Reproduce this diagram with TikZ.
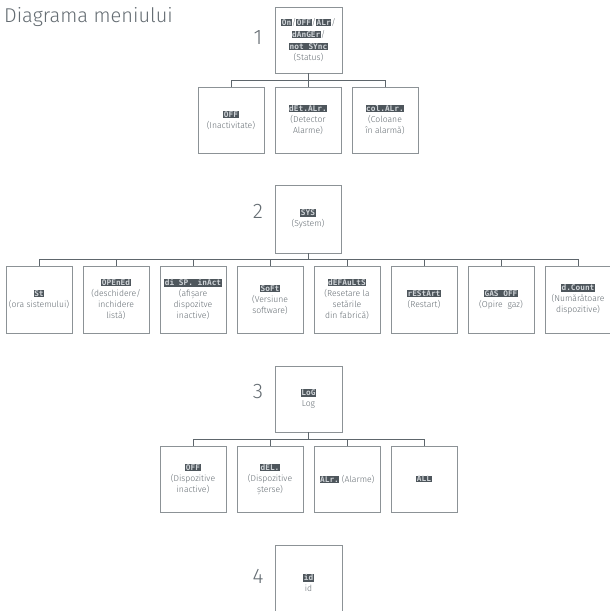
\documentclass[tikz,border=0pt]{standalone}
\usepackage{fontspec}
\setmainfont{Fira Sans}[UprightFont=* Light]
\newfontfamily\segfont{DejaVu Sans Mono}
\definecolor{boxgray}{HTML}{8C9296}
\definecolor{linegray}{HTML}{5E666C}
\definecolor{txtgray}{HTML}{646C72}
\definecolor{dispfill}{HTML}{4E565C}
\definecolor{displight}{HTML}{D0D4D8}
\newcommand\seg[1]{{\setlength{\fboxsep}{0.6pt}\colorbox{dispfill}{\textcolor{displight}{\segfont\bfseries\fontsize{7.8}{7.8}\selectfont #1}}}}
\begin{document}
\begin{tikzpicture}[x=1pt,y=-1pt,
  box/.style={draw=boxgray, line width=0.8pt, minimum width=66pt, minimum height=66pt, inner sep=0pt, align=center, font=\fontsize{8.6}{11}\selectfont, text=txtgray},
  conn/.style={draw=linegray, line width=0.8pt},
  num/.style={font=\fontsize{21}{21}\selectfont, text=txtgray, inner sep=0pt}]
\useasboundingbox (0,0) rectangle (610,611);
\node[anchor=west, font=\fontsize{20}{20}\selectfont, text=txtgray, inner sep=0pt] (title) at (4,17) {Diagrama meniului};
% Section 1
\node[num] (n1) at (258,38) {1};
\node[box, minimum width=67pt] (m1) at (308.5,40) {\seg{On}/\seg{OFF}/\seg{ALr}/\\[1pt]\seg{dAnGEr}/\\[1pt]\seg{not SYnc}\\(Status)};
\coordinate (j1) at (308.5,80);
\node[box] (c11) at (231,120) {\seg{OFF}\\(Inactivitate)};
\node[box] (c12) at (308,120) {\seg{dEt.ALr.}\\(Detector\\Alarme)};
\node[box] (c13) at (385,120) {\seg{col.ALr.}\\(Coloane\\în alarmă)};
\draw[conn] (m1) -- (j1);
\foreach \c in {c11,c12,c13} \draw[conn] (j1) -| (\c.north);
% Section 2
\node[num] (n2) at (258,211) {2};
\node[box, minimum height=68pt] (m2) at (308,219) {\seg{SYS}\\(System)};
\coordinate (j2) at (308,259);
\node[box, minimum height=67pt] (c21) at (39,299.5) {\seg{St}\\(ora sistemului)};
\node[box, minimum height=67pt] (c22) at (116,299.5) {\seg{OPEnEd}\\(deschidere/\\inchidere\\listă)};
\node[box, minimum height=67pt] (c23) at (193,299.5) {\seg{di SP. inAct}\\(afișare\\dispozitve\\inactive)};
\node[box, minimum height=67pt] (c24) at (270,299.5) {\seg{SoFt}\\(Versiune\\software)};
\node[box, minimum height=67pt] (c25) at (347,299.5) {\seg{dEFAuLtS}\\(Resetare la\\setările\\din fabrică)};
\node[box, minimum height=67pt] (c26) at (424,299.5) {\seg{rEStArt}\\(Restart)};
\node[box, minimum height=67pt] (c27) at (501,299.5) {\seg{GAS OFF}\\(Opire\ \ gaz)};
\node[box, minimum height=67pt] (c28) at (578,299.5) {\seg{d.Count}\\(Numărătoare\\dispozitive)};
\draw[conn] (m2) -- (j2);
\foreach \c in {c21,c22,c23,c24,c25,c26,c27,c28} \draw[conn] (j2) -| (\c.north);
% Section 3
\node[num] (n3) at (258,392) {3};
\node[box, minimum width=67pt] (m3) at (308.5,399) {\seg{LoG}\\Log};
\coordinate (j3) at (308.5,439);
\node[box] (c31) at (193,479) {\seg{OFF}\\(Dispozitive\\inactive)};
\node[box] (c32) at (270,479) {\seg{dEL.}\\(Dispozitive\\șterse)};
\node[box] (c33) at (347,479) {\seg{ALr.} (Alarme)};
\node[box] (c34) at (424,479) {\seg{ALL}};
\draw[conn] (m3) -- (j3);
\foreach \c in {c31,c32,c33,c34} \draw[conn] (j3) -| (\c.north);
% Section 4
\node[num] (n4) at (258,576) {4};
\node[box, minimum width=67pt, minimum height=76pt] (m4) at (308.5,583) {\seg{id}\\id};
\end{tikzpicture}
\end{document}
